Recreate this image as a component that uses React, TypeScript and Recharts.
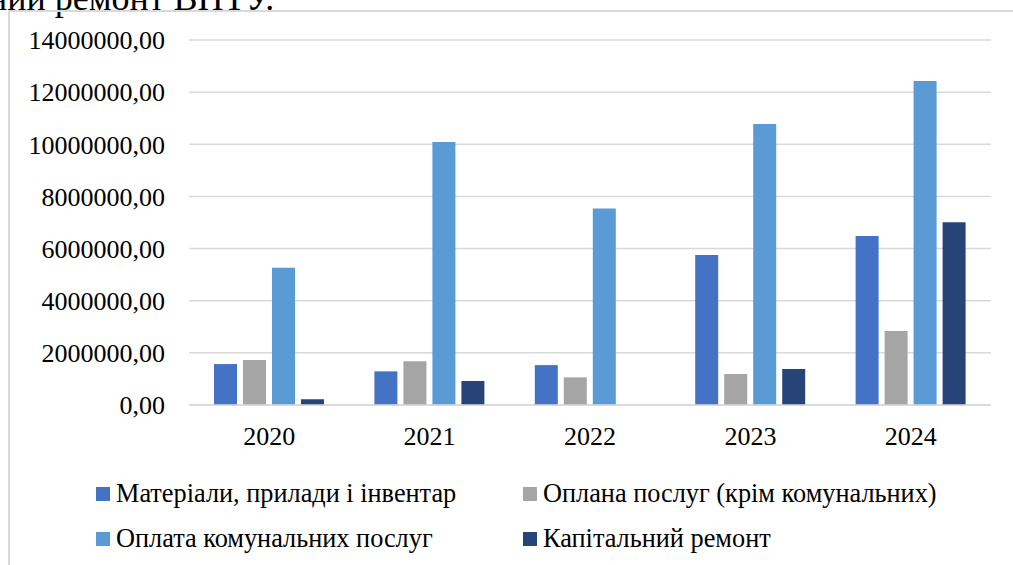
import React from "react";
import { BarChart, Bar, XAxis, YAxis, CartesianGrid, Legend } from "recharts";

const years = ["2020", "2021", "2022", "2023", "2024"];
const materials = [1570000, 1290000, 1530000, 5750000, 6480000];
const services = [1730000, 1680000, 1060000, 1190000, 2840000];
const utilities = [5260000, 10090000, 7540000, 10780000, 12430000];
const capitalRepair = [220000, 920000, 0, 1380000, 7010000];
const yTicks = [0, 2000000, 4000000, 6000000, 8000000, 10000000, 12000000, 14000000];

const seriesNames = [
  "Матеріали, прилади і інвентар",
  "Оплана послуг (крім комунальних)",
  "Оплата комунальних послуг",
  "Капітальний ремонт",
];

const data = years.map((year, i) => ({
  year,
  materials: materials[i],
  services: services[i],
  utilities: utilities[i],
  capitalRepair: capitalRepair[i],
}));

const FONT = "Liberation Serif, Times New Roman, serif";
const fmt = (v: number) => v.toFixed(2).replace(".", ",");

function LegendGrid(props: any) {
  // keep series order, recharts sorts the payload by name
  const items = [...(props.payload || [])].sort(
    (a: any, b: any) => seriesNames.indexOf(a.value) - seriesNames.indexOf(b.value)
  );
  return (
    <div
      style={{
        display: "grid",
        gridTemplateColumns: "427px 427px",
        paddingLeft: 96,
        fontFamily: FONT,
        fontSize: 26.3,
        lineHeight: "45px",
        color: "#000",
      }}
    >
      {items.map((entry: any) => (
        <div key={entry.value} style={{ display: "flex", alignItems: "center", whiteSpace: "nowrap" }}>
          <span
            style={{
              display: "inline-block",
              width: 14,
              height: 14,
              background: entry.color,
              marginRight: 6,
            }}
          />
          {entry.value}
        </div>
      ))}
    </div>
  );
}

export default function App() {
  return (
    <div
      style={{
        position: "absolute",
        left: 0,
        top: 0,
        width: 1013,
        height: 565,
        overflow: "hidden",
        background: "#fff",
        fontFamily: FONT,
      }}
    >
      <div
        style={{
          position: "absolute",
          left: -12,
          top: -20.5,
          fontSize: 36,
          lineHeight: 1,
          whiteSpace: "nowrap",
          color: "#000",
          fontFamily: FONT,
        }}
      >
        ний ремонт ВНТУ.
      </div>
      <div
        style={{
          position: "absolute",
          left: 8,
          top: 10,
          width: 1200,
          height: 700,
          borderLeft: "2px solid #d9d9d9",
          borderTop: "2px solid #d9d9d9",
        }}
      />
      <div style={{ position: "absolute", left: 0, top: 0 }}>
        <BarChart
          width={1013}
          height={565}
          data={data}
          margin={{ top: 40, right: 22, bottom: 130, left: 0 }}
          barCategoryGap={25}
          barGap={6}
          style={{ fontFamily: FONT }}
        >
          <CartesianGrid vertical={false} stroke="#d9d9d9" strokeWidth={1.5} />
          <XAxis
            dataKey="year"
            height={30}
            tickLine={false}
            tickMargin={16}
            axisLine={{ stroke: "#d9d9d9", strokeWidth: 1.5 }}
            tick={{ fill: "#000", fontSize: 26, fontFamily: FONT }}
          />
          <YAxis
            width={189}
            domain={[0, 14000000]}
            ticks={yTicks}
            tickFormatter={fmt}
            axisLine={false}
            tickLine={false}
            tickMargin={18}
            tick={{ fill: "#000", fontSize: 26, fontFamily: FONT }}
          />
          <Legend
            layout="horizontal"
            verticalAlign="middle"
            align="center"
            content={<LegendGrid />}
            wrapperStyle={{ left: 0, top: 471, width: 1013 }}
          />
          <Bar dataKey="materials" name={seriesNames[0]} fill="#4472C4" isAnimationActive={false} />
          <Bar dataKey="services" name={seriesNames[1]} fill="#A5A5A5" isAnimationActive={false} />
          <Bar dataKey="utilities" name={seriesNames[2]} fill="#5B9BD5" isAnimationActive={false} />
          <Bar dataKey="capitalRepair" name={seriesNames[3]} fill="#264478" isAnimationActive={false} />
        </BarChart>
      </div>
    </div>
  );
}
